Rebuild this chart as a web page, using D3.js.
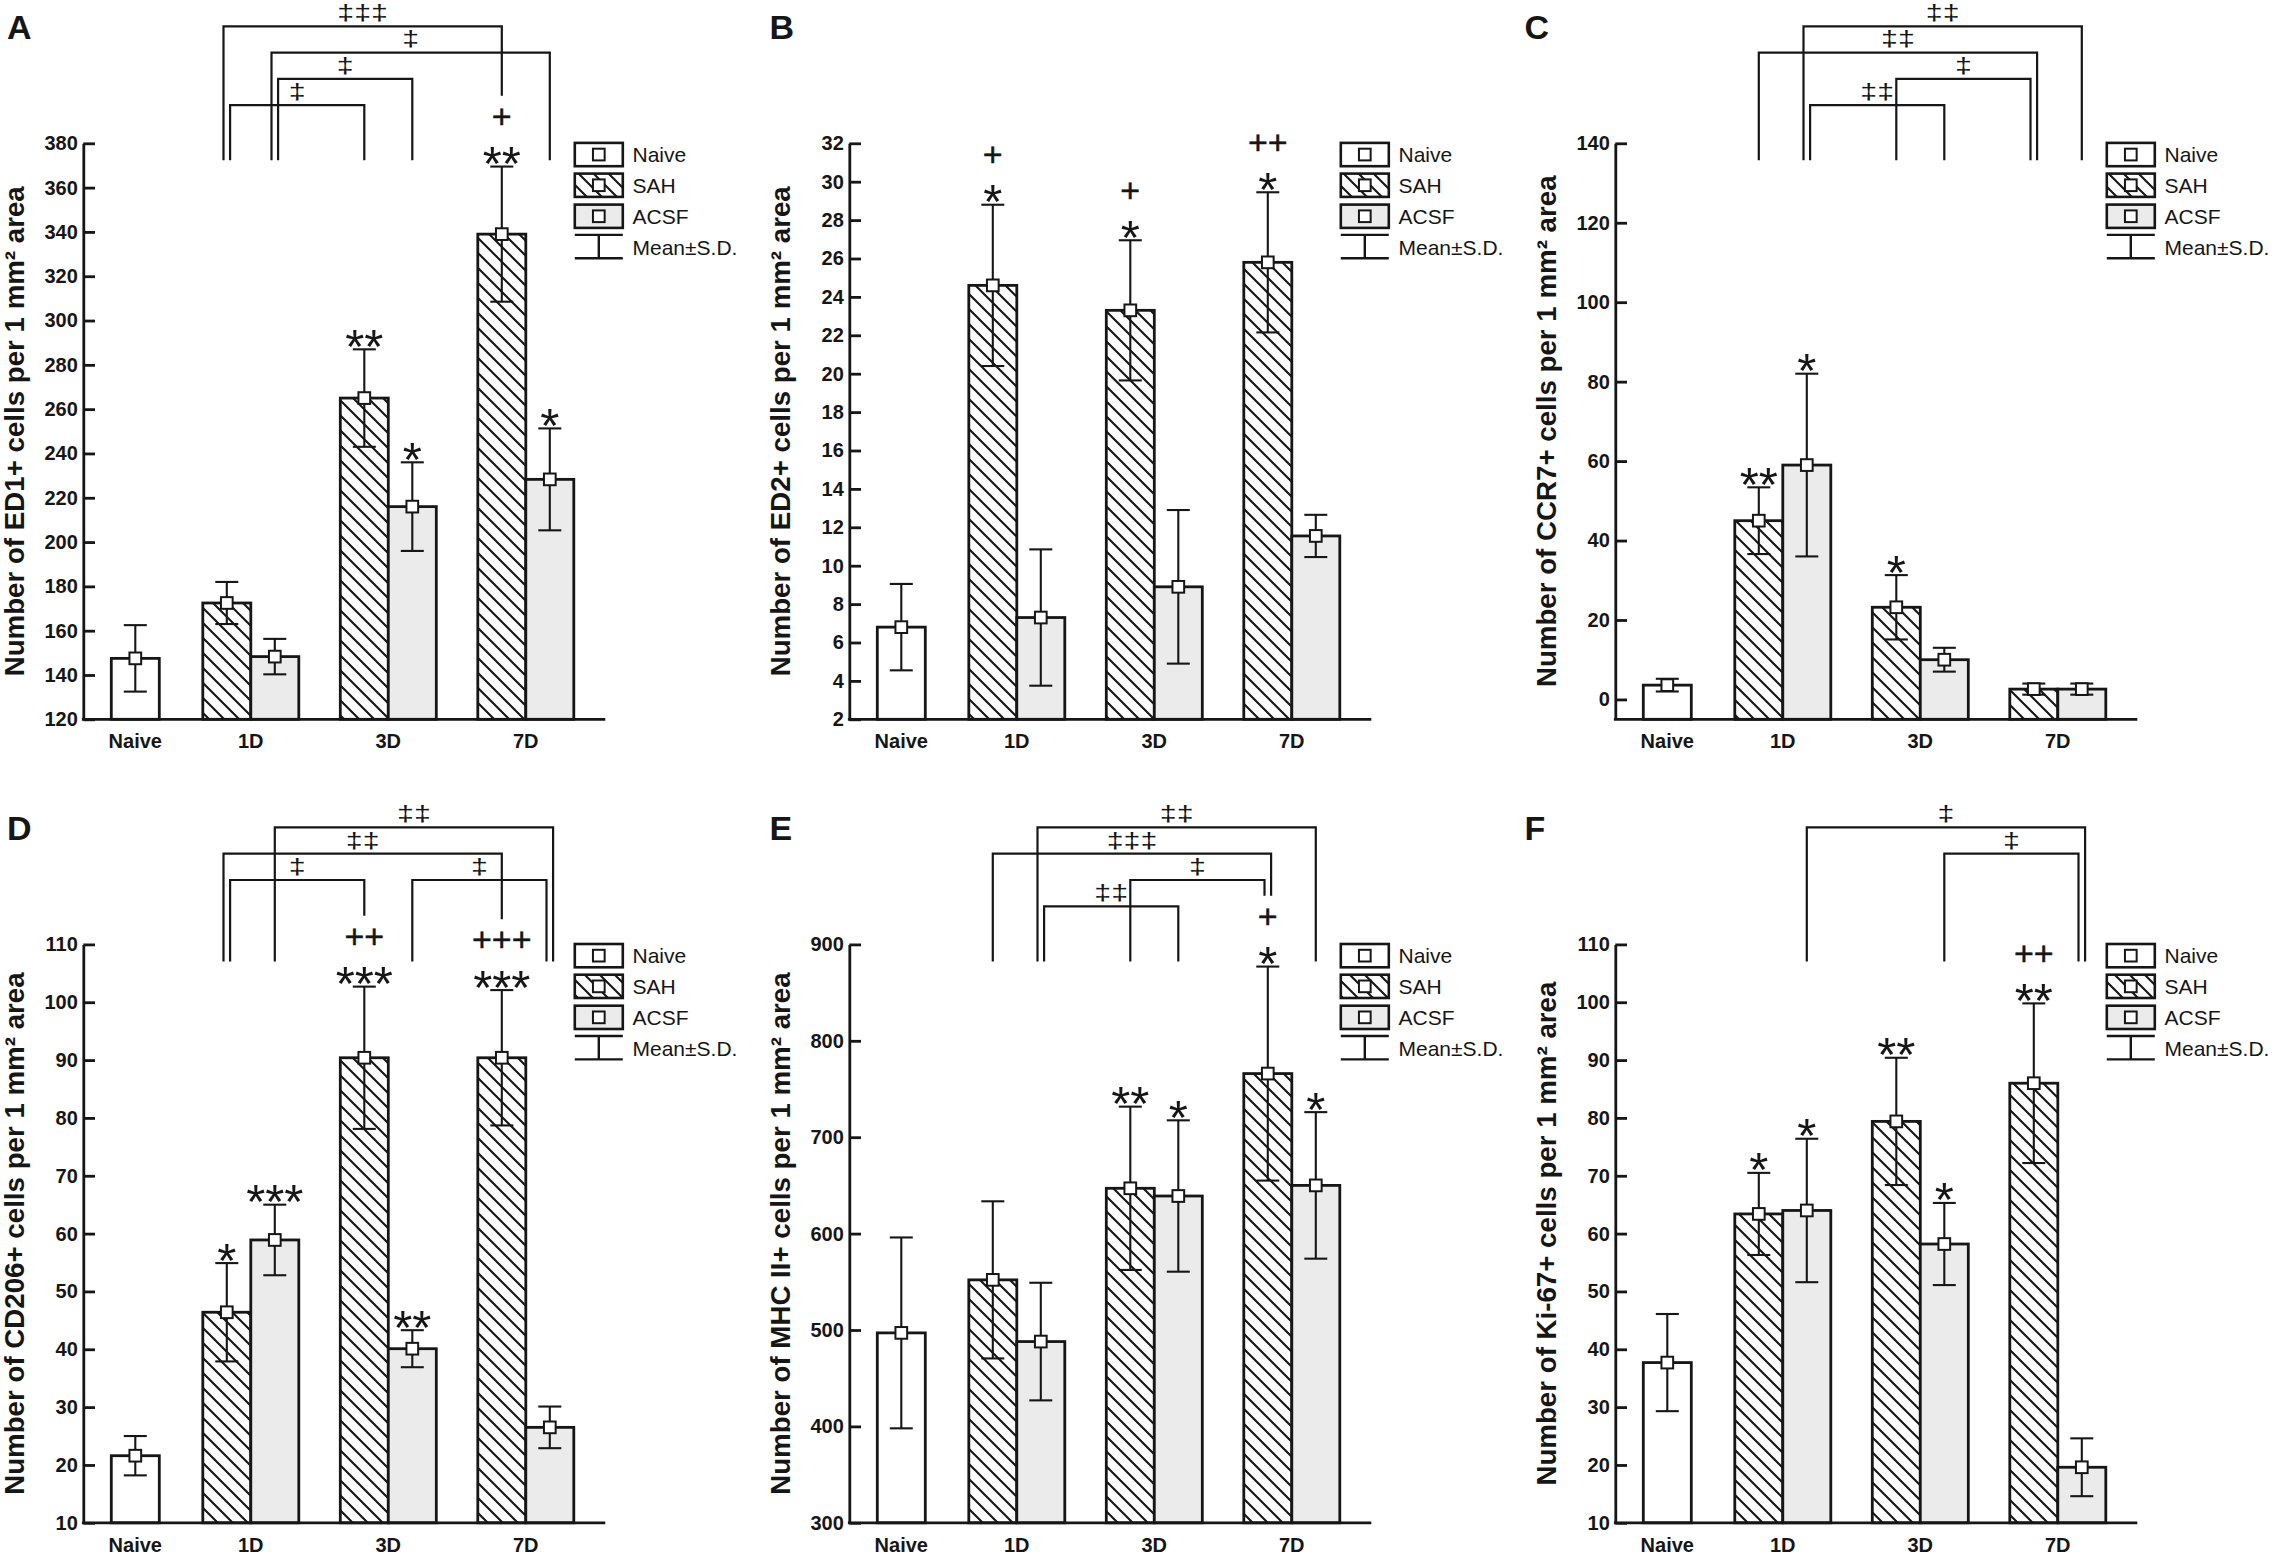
<!DOCTYPE html>
<html>
<head>
<meta charset="utf-8">
<script src="https://cdn.jsdelivr.net/npm/d3@7/dist/d3.min.js"></script>
<style>
  body { margin: 0; background: #ffffff; }
  svg { display: block; }
</style>
</head>
<body>
<svg id="fig" width="2275" height="1556"></svg>
<script>
// ---------------- DATA ----------------
const groups = ['Naive', '1D', '3D', '7D'];
const seriesNames = ['Naive', 'SAH', 'ACSF'];
const barGroup  = ['Naive', '1D', '1D', '3D', '3D', '7D', '7D'];
const barSeries = ['Naive', 'SAH', 'ACSF', 'SAH', 'ACSF', 'SAH', 'ACSF'];
const legendLabels = ['Naive', 'SAH', 'ACSF', 'Mean±S.D.'];

// A: ED1
const ed1Mean  = [147.5, 172.5, 148.3, 265, 216, 339, 228.3];
const ed1SD    = [15, 9.5, 8, 22, 20, 30.5, 23];
const ed1Stars = ['', '', '', '**', '*', '**', '*'];
const ed1Plus  = ['', '', '', '', '', '+', ''];
const ed1Ticks = [120, 140, 160, 180, 200, 220, 240, 260, 280, 300, 320, 340, 360, 380];
const ed1Brackets = [
  ['1D', 'SAH', '7D', 'SAH', '‡‡‡', 0],
  ['1D', 'ACSF', '7D', 'ACSF', '‡', 1],
  ['1D', 'ACSF', '3D', 'ACSF', '‡', 2],
  ['1D', 'SAH', '3D', 'SAH', '‡', 3]
];

// B: ED2
const ed2Mean  = [6.8, 24.6, 7.3, 23.3, 8.9, 25.8, 11.55];
const ed2SD    = [2.25, 4.2, 3.55, 3.65, 4.0, 3.65, 1.1];
const ed2Stars = ['', '*', '', '*', '', '*', ''];
const ed2Plus  = ['', '+', '', '+', '', '++', ''];
const ed2Ticks = [2, 4, 6, 8, 10, 12, 14, 16, 18, 20, 22, 24, 26, 28, 30, 32];
const ed2Brackets = [];

// C: CCR7
const ccr7Mean  = [3.6, 45, 59, 23.2, 10, 2.6, 2.6];
const ccr7SD    = [1.6, 8.4, 23, 8.1, 3, 1.4, 1.4];
const ccr7Stars = ['', '**', '*', '*', '', '', ''];
const ccr7Plus  = ['', '', '', '', '', '', ''];
const ccr7Ticks = [0, 20, 40, 60, 80, 100, 120, 140];
const ccr7Brackets = [
  ['1D', 'ACSF', '7D', 'ACSF', '‡‡', 0],
  ['1D', 'SAH', '7D', 'SAH', '‡‡', 1],
  ['3D', 'SAH', '7D', 'SAH', '‡', 2],
  ['1D', 'ACSF', '3D', 'ACSF', '‡‡', 3]
];

// D: CD206
const cd206Mean  = [21.6, 46.4, 58.9, 90.4, 40.1, 90.4, 26.5];
const cd206SD    = [3.4, 8.5, 6.1, 12.3, 3.2, 11.7, 3.6];
const cd206Stars = ['', '*', '***', '***', '**', '***', ''];
const cd206Plus  = ['', '', '', '++', '', '+++', ''];
const cd206Ticks = [10, 20, 30, 40, 50, 60, 70, 80, 90, 100, 110];
const cd206Brackets = [
  ['1D', 'ACSF', '7D', 'ACSF', '‡‡', 0],
  ['1D', 'SAH', '7D', 'SAH', '‡‡', 1],
  ['1D', 'SAH', '3D', 'SAH', '‡', 2],
  ['3D', 'ACSF', '7D', 'ACSF', '‡', 2]
];

// E: MHC II
const mhcMean  = [497, 552, 488, 647, 639, 766, 650];
const mhcSD    = [99, 81.5, 61, 84.7, 78.5, 111, 76];
const mhcStars = ['', '', '', '**', '*', '*', '*'];
const mhcPlus  = ['', '', '', '', '', '+', ''];
const mhcTicks = [300, 400, 500, 600, 700, 800, 900];
const mhcBrackets = [
  ['1D', 'ACSF', '7D', 'ACSF', '‡‡', 0],
  ['1D', 'SAH', '7D', 'SAH', '‡‡‡', 1],
  ['3D', 'SAH', '7D', 'SAH', '‡', 2],
  ['1D', 'ACSF', '3D', 'ACSF', '‡‡', 3]
];

// F: Ki-67
const ki67Mean  = [37.7, 63.4, 64, 79.4, 58.2, 86, 19.6];
const ki67SD    = [8.4, 7.1, 12.4, 11, 7.1, 13.8, 5];
const ki67Stars = ['', '*', '*', '**', '*', '**', ''];
const ki67Plus  = ['', '', '', '', '', '++', ''];
const ki67Ticks = [10, 20, 30, 40, 50, 60, 70, 80, 90, 100, 110];
const ki67Brackets = [
  ['1D', 'ACSF', '7D', 'ACSF', '‡', 0],
  ['3D', 'ACSF', '7D', 'ACSF', '‡', 1]
];

const panelLetters = ['A', 'B', 'C', 'D', 'E', 'F'];
const yTitles = [
  'Number of ED1+ cells per 1 mm² area',
  'Number of ED2+ cells per 1 mm² area',
  'Number of CCR7+ cells per 1 mm² area',
  'Number of CD206+ cells per 1 mm² area',
  'Number of MHC II+ cells per 1 mm² area',
  'Number of Ki-67+ cells per 1 mm² area'
];
const yDomains = [[120, 380], [2, 32], [-5, 140], [10, 110], [300, 900], [10, 110]];

const panels = [
  { mean: ed1Mean, sd: ed1SD, stars: ed1Stars, plus: ed1Plus, ticks: ed1Ticks, brackets: ed1Brackets },
  { mean: ed2Mean, sd: ed2SD, stars: ed2Stars, plus: ed2Plus, ticks: ed2Ticks, brackets: ed2Brackets },
  { mean: ccr7Mean, sd: ccr7SD, stars: ccr7Stars, plus: ccr7Plus, ticks: ccr7Ticks, brackets: ccr7Brackets },
  { mean: cd206Mean, sd: cd206SD, stars: cd206Stars, plus: cd206Plus, ticks: cd206Ticks, brackets: cd206Brackets },
  { mean: mhcMean, sd: mhcSD, stars: mhcStars, plus: mhcPlus, ticks: mhcTicks, brackets: mhcBrackets },
  { mean: ki67Mean, sd: ki67SD, stars: ki67Stars, plus: ki67Plus, ticks: ki67Ticks, brackets: ki67Brackets }
].map((p, i) => Object.assign(p, { letter: panelLetters[i], title: yTitles[i], domain: yDomains[i] }));

// ---------------- LAYOUT ----------------
const FONT = "'Liberation Sans', Arial, Helvetica, sans-serif";
const INK = '#161616';
const axisX = [83.3, 849.3, 1615.3];
const letterX = [7, 769.5, 1524.5];
const rowTop = [143.3, 944.4];
const rowBottom = [719.3, 1522.8];
const barW = 48;
const xAxisLen = 522;
const groupLeftRange = [28, 119.5, 257, 394.5];
const seriesOffsetRange = [0, 0, barW];
const levelOffsets = [-117, -90.7, -64.4, -38.1];
const capW = 23;
const markSize = 11.7;

const svg = d3.select('#fig');
svg.append('rect').attr('width', 2275).attr('height', 1556).attr('fill', '#fff');

const defs = svg.append('defs');
const pat = defs.append('pattern')
  .attr('id', 'hatch')
  .attr('patternUnits', 'userSpaceOnUse')
  .attr('width', 15).attr('height', 15);
pat.append('rect').attr('width', 15).attr('height', 15).attr('fill', '#fff');
pat.append('path')
  .attr('d', 'M-2,-2L17,17M12,-3L18,3M-3,12L3,18')
  .attr('stroke', INK).attr('stroke-width', 2.1).attr('fill', 'none');

const fillFor = d3.scaleOrdinal().domain(seriesNames).range(['#ffffff', 'url(#hatch)', '#ebebeb']);

// significance glyph metrics (Liberation Sans)
const starFs = 49, plusFs = 34;
const starBase = cap => cap - 6.8 + 0.413 * starFs;          // glyph bottom ~7px above cap
const starBoxTop = cap => starBase(cap) - 0.905 * starFs;
const plusBase = cap => starBoxTop(cap) - 0.6 - 0.212 * plusFs; // em boxes just touch
const plusGlyphTop = cap => plusBase(cap) - 0.59 * plusFs;

function drawPanel(p, i) {
  const col = i % 3, row = Math.floor(i / 3);
  const ox = axisX[col], top = rowTop[row], bot = rowBottom[row];
  const g = svg.append('g').attr('class', 'panel-' + p.letter);

  const y = d3.scaleLinear().domain(p.domain).range([bot, top]);
  const gLeft = d3.scaleOrdinal().domain(groups).range(groupLeftRange);
  const sOff = d3.scaleOrdinal().domain(seriesNames).range(seriesOffsetRange);
  const bx = (gr, s) => ox + gLeft(gr) + sOff(s);
  const bc = (gr, s) => bx(gr, s) + barW / 2;

  const bars = p.mean.map((m, k) => ({
    k, group: barGroup[k], series: barSeries[k], mean: m, sd: p.sd[k],
    star: p.stars[k], plus: p.plus[k]
  }));

  // panel letter
  g.append('text').attr('x', letterX[col]).attr('y', top - 104)
    .attr('font-family', FONT).attr('font-weight', 'bold').attr('font-size', 34)
    .attr('fill', INK).text(p.letter);

  // y title
  g.append('text')
    .attr('transform', `translate(${ox - 68.7},${(top + bot) / 2}) rotate(-90)`)
    .attr('text-anchor', 'middle').attr('dominant-baseline', 'central')
    .attr('font-family', FONT).attr('font-weight', 'bold').attr('font-size', 27.7)
    .attr('fill', INK).text(p.title);

  // bars
  g.selectAll('rect.bar').data(bars).join('rect').attr('class', 'bar')
    .attr('x', d => bx(d.group, d.series))
    .attr('y', d => y(d.mean))
    .attr('width', barW)
    .attr('height', d => bot - y(d.mean))
    .attr('fill', d => fillFor(d.series))
    .attr('stroke', INK).attr('stroke-width', 2.8);

  // y axis
  const yAxis = d3.axisLeft(y).tickValues(p.ticks).tickSizeInner(-11.7).tickSizeOuter(0).tickPadding(5.5);
  const ya = g.append('g').attr('transform', `translate(${ox},0)`).call(yAxis);
  ya.select('.domain').attr('stroke', INK).attr('stroke-width', 2.8);
  ya.selectAll('.tick line').attr('stroke', INK).attr('stroke-width', 2.8);
  ya.selectAll('.tick text').attr('font-family', FONT).attr('font-weight', 'bold')
    .attr('font-size', 20).attr('fill', INK);

  // x axis
  g.append('line').attr('x1', ox - 1.4).attr('x2', ox + xAxisLen)
    .attr('y1', bot).attr('y2', bot).attr('stroke', INK).attr('stroke-width', 2.8);
  g.selectAll('text.cat').data(groups).join('text').attr('class', 'cat')
    .attr('x', d => d === 'Naive' ? bc('Naive', 'Naive') : bx(d, 'SAH') + barW)
    .attr('y', bot + 29)
    .attr('text-anchor', 'middle')
    .attr('font-family', FONT).attr('font-weight', 'bold').attr('font-size', 20)
    .attr('fill', INK).text(d => d);

  // error bars
  const eb = g.selectAll('g.err').data(bars).join('g').attr('class', 'err')
    .attr('stroke', INK).attr('stroke-width', 2.1);
  eb.append('line')
    .attr('x1', d => bc(d.group, d.series)).attr('x2', d => bc(d.group, d.series))
    .attr('y1', d => y(d.mean - d.sd)).attr('y2', d => y(d.mean + d.sd));
  eb.append('line')
    .attr('x1', d => bc(d.group, d.series) - capW / 2).attr('x2', d => bc(d.group, d.series) + capW / 2)
    .attr('y1', d => y(d.mean + d.sd)).attr('y2', d => y(d.mean + d.sd));
  eb.append('line')
    .attr('x1', d => bc(d.group, d.series) - capW / 2).attr('x2', d => bc(d.group, d.series) + capW / 2)
    .attr('y1', d => y(d.mean - d.sd)).attr('y2', d => y(d.mean - d.sd));

  // mean markers
  g.selectAll('rect.mark').data(bars).join('rect').attr('class', 'mark')
    .attr('x', d => bc(d.group, d.series) - markSize / 2)
    .attr('y', d => y(d.mean) - markSize / 2)
    .attr('width', markSize).attr('height', markSize)
    .attr('fill', '#fff').attr('stroke', INK).attr('stroke-width', 2);

  // significance: * (vs naive) and + (vs ACSF) stacked above it
  g.selectAll('text.star').data(bars.filter(d => d.star)).join('text').attr('class', 'star')
    .attr('x', d => bc(d.group, d.series))
    .attr('y', d => starBase(y(d.mean + d.sd)))
    .attr('text-anchor', 'middle')
    .attr('font-family', FONT).attr('font-size', starFs).attr('fill', INK)
    .text(d => d.star);
  g.selectAll('text.plus').data(bars.filter(d => d.plus)).join('text').attr('class', 'plus')
    .attr('x', d => bc(d.group, d.series))
    .attr('y', d => plusBase(y(d.mean + d.sd)))
    .attr('text-anchor', 'middle')
    .attr('font-family', FONT).attr('font-size', plusFs).attr('fill', INK)
    .attr('stroke', INK).attr('stroke-width', 0.5)
    .text(d => d.plus);

  // brackets between time points
  const markTop = (gr, s) => {
    const d = bars.find(b => b.group === gr && b.series === s);
    const cap = y(d.mean + d.sd);
    return d.plus ? plusGlyphTop(cap) : d.star ? cap - 21 : cap;
  };
  const legBottom = top + 17;
  const br = p.brackets.map(b => {
    const a = { g: b[0], s: b[1] }, c = { g: b[2], s: b[3] };
    return { a, c, label: b[4], level: b[5], span: Math.abs(bc(c.g, c.s) - bc(a.g, a.s)) };
  });
  const endKey = e => e.g + '|' + e.s;
  const uses = {};
  br.forEach(b => {
    [b.a, b.c].forEach(e => { (uses[endKey(e)] = uses[endKey(e)] || []).push(b); });
  });
  const legX = (b, e, side) => {
    const list = uses[endKey(e)];
    let off = 0;
    if (list.length > 1) {
      const maxSpan = d3.max(list, q => q.span);
      const outer = b.span === maxSpan;
      off = (outer ? 1 : -1) * (side === 'L' ? -3.3 : 3.3);
    }
    return bc(e.g, e.s) + off;
  };
  br.forEach(b => {
    const ly = top + levelOffsets[b.level];
    const xl = legX(b, b.a, 'L'), xr = legX(b, b.c, 'R');
    const yl = Math.min(legBottom, markTop(b.a.g, b.a.s) - 12);
    const yr = Math.min(legBottom, markTop(b.c.g, b.c.s) - 12);
    g.append('path')
      .attr('d', `M${xl},${yl}V${ly}H${xr}V${yr}`)
      .attr('fill', 'none').attr('stroke', INK).attr('stroke-width', 2.2);
    g.append('text')
      .attr('transform', `translate(${(xl + xr) / 2},${ly - 6.2}) scale(1.38,1)`)
      .attr('text-anchor', 'middle')
      .attr('font-family', FONT).attr('font-size', 22).attr('fill', INK)
      .text(b.label);
  });

  // legend
  const lx = ox + 491.5;
  const lg = g.append('g').attr('class', 'legend');
  const boxTops = [top - 0.4, top + 30.3, top + 61.3];
  const boxH = 23.3;
  seriesNames.forEach((s, j) => {
    lg.append('rect').attr('x', lx).attr('y', boxTops[j]).attr('width', barW).attr('height', boxH)
      .attr('fill', fillFor(s)).attr('stroke', INK).attr('stroke-width', 2.6);
    lg.append('rect').attr('x', lx + barW / 2 - markSize / 2).attr('y', boxTops[j] + boxH / 2 - markSize / 2)
      .attr('width', markSize).attr('height', markSize)
      .attr('fill', '#fff').attr('stroke', INK).attr('stroke-width', 2);
    lg.append('text').attr('x', lx + barW + 9.7).attr('y', boxTops[j] + 19.3)
      .attr('font-family', FONT).attr('font-size', 21).attr('fill', INK).text(legendLabels[j]);
  });
  const e1 = top + 91.6, e2 = top + 115;
  lg.append('path')
    .attr('d', `M${lx},${e1}H${lx + barW}M${lx + barW / 2},${e1}V${e2}M${lx},${e2}H${lx + barW}`)
    .attr('fill', 'none').attr('stroke', INK).attr('stroke-width', 2.4);
  lg.append('text').attr('x', lx + barW + 9.7).attr('y', top + 111.6)
    .attr('font-family', FONT).attr('font-size', 21).attr('fill', INK).text(legendLabels[3]);
}

panels.forEach(drawPanel);
</script>
</body>
</html>
